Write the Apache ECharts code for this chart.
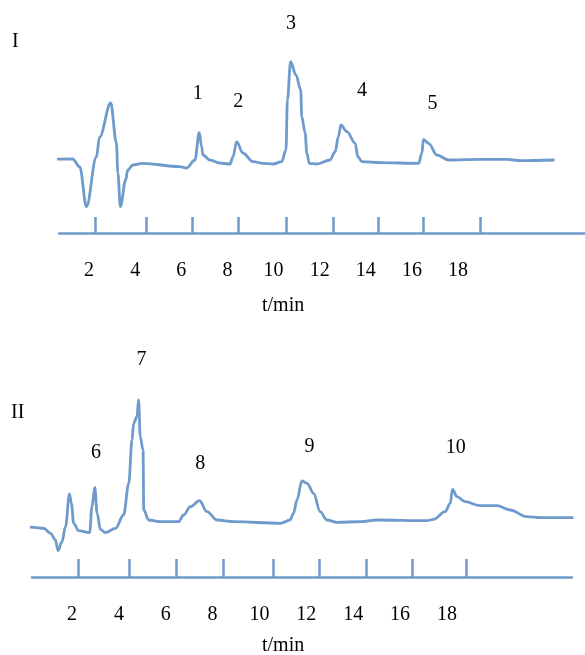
<!DOCTYPE html>
<html><head><meta charset="utf-8">
<script src="https://cdn.jsdelivr.net/npm/echarts@6/dist/echarts.min.js"></script>
<style>html,body{margin:0;padding:0;background:#fff}#c{width:585px;height:655px}</style>
</head><body><div id="c"></div>
<script>
// Panel I chromatogram: time (min) and detector signal (arbitrary units)
const timeI = [-0.61,1.29,1.60,1.89,2.32,2.46,2.94,3.19,3.25,3.36,3.59,3.68,3.90,4.33,5.94,6.23,6.59,6.78,6.88,6.94,7.24,7.67,8.11,8.24,8.40,8.67,9.11,9.54,9.98,10.35,10.54,10.60,10.74,10.97,11.18,11.22,11.37,11.44,11.55,11.87,12.45,12.67,12.81,12.92,13.18,13.54,13.65,13.83,14.62,16.29,16.43,16.50,16.72,17.08,17.59,18.96,20.12,20.70,22.18];
const signalI = [73.7,74,66,26.3,76,96,130,90,60,26.3,53,63,68,69.7,66.3,65,73,100.3,86.3,78,73,70,69,76,91.3,80,71.3,69.7,69,71.3,83,133,171.3,158,143,116.3,100,80,69.7,69,73,81.3,96.3,108,101.3,89.7,76.3,71.3,70.3,69.7,80,93.7,89.7,78,73,73.7,73.7,72.3,73];
// Panel II chromatogram
const timeII = [-0.17,0.36,0.79,1.08,1.29,1.40,1.57,1.72,1.89,1.97,2.07,2.28,2.75,2.85,2.97,3.07,3.21,3.42,3.85,4.20,4.42,4.56,4.63,4.77,4.84,4.91,5.03,5.06,5.27,5.77,6.55,6.76,7.05,7.44,7.76,8.19,8.90,10.89,11.31,11.45,11.60,11.81,12.03,12.31,12.59,12.88,13.31,14.30,15.01,17.15,17.43,17.93,18.14,18.24,18.43,18.78,19.42,20.13,20.70,21.41,21.98,23.40];
const signalII = [50.3,49.7,48.7,43.7,37,26.3,35.3,50.3,83,73.7,53.7,46.3,44.3,70.3,89.7,63.7,47.7,44.3,48.7,62,93.7,137,153.7,160.3,177,140.3,127,67,57,55.3,55.3,62,70.3,76.3,65.3,57,55.3,53.7,57,63.7,77,96,93.7,83.7,65.3,57,54.7,55.3,57,56.3,57.7,65.3,73.7,87.7,80.3,75.3,71.3,71.3,67,60.3,59.3,59.3];
// Axis tick positions (min) as drawn, and tick labels
const tickTimesI = [2.29,4.50,6.46,8.46,10.54,12.58,14.54,16.49,18.96];
const tickTimesII = [2.26,4.46,6.45,8.44,10.58,12.56,14.54,16.51,18.81];
const tickLabels = [2,4,6,8,10,12,14,16,18];
// Peak numbers: name, time, signal level of the label
const peakNamesI = ['1','2','3','4','5'];
const peakTimesI = [6.71,8.47,10.76,13.83,16.89];
const peakLevelsI = [139.7,131.3,209,142.3,129.7];
const peakNamesII = ['6','7','8','9','10'];
const peakTimesII = [3.02,4.96,7.47,12.14,18.38];
const peakLevelsII = [124.3,217,113,130.3,129.7];

const BLUE = '#6e9bcb';
const INK = '#000';
const FONT = '"Liberation Serif","DejaVu Serif",serif';
const chart = echarts.init(document.getElementById('c'), null, {renderer:'canvas'});

function xAxisCfg(gi, min, max, ticks, tickLen, margin){
  return {type:'value', gridIndex:gi, min:min, max:max,
    axisLine:{show:true, onZero:false, lineStyle:{color:BLUE, width:2.5}},
    axisTick:{show:true, inside:true, length:tickLen, customValues:ticks, lineStyle:{color:BLUE, width:2.5}},
    axisLabel:{show:true, customValues:tickLabels, margin:margin, color:INK, fontFamily:FONT, fontSize:20, formatter:v=>String(v)},
    splitLine:{show:false}};
}
function yAxisCfg(gi){
  return {type:'value', gridIndex:gi, min:0, max:230, show:false, splitLine:{show:false}};
}
function peakSeries(xi, names, times, levels){
  return {type:'scatter', xAxisIndex:xi, yAxisIndex:xi, symbolSize:0, clip:false, silent:true,
    itemStyle:{opacity:1, color:'transparent'},
    data: names.map((n,i)=>({value:[times[i], levels[i]], name:n})),
    label:{show:true, position:'inside', opacity:1, formatter:p=>p.name, color:INK, textBorderWidth:0, textBorderColor:'transparent', fontFamily:FONT, fontSize:20}};
}

chart.setOption({
  animation:false,
  backgroundColor:'#fff',
  grid:[
    {left:59, right:0, top:3, height:230},
    {left:32, right:13, top:347, height:230}
  ],
  xAxis:[
    xAxisCfg(0, 0.7, 23.5, tickTimesI, 16, 28),
    xAxisCfg(1, 0.29, 23.34, tickTimesII, 18, 28)
  ],
  yAxis:[yAxisCfg(0), yAxisCfg(1)],
  graphic:[
    {type:'text', left:12, top:32, style:{text:'I', font:'20px '+FONT, fill:INK}},
    {type:'text', left:11, top:403, style:{text:'II', font:'20px '+FONT, fill:INK}},
    {type:'text', left:262, top:296, style:{text:'t/min', font:'20px '+FONT, fill:INK}},
    {type:'text', left:262, top:636, style:{text:'t/min', font:'20px '+FONT, fill:INK}}
  ],
  series:[
    {type:'line', xAxisIndex:0, yAxisIndex:0, clip:false, symbol:'none', smooth:0.35, smoothMonotone:'x',
      lineStyle:{color:BLUE, width:2.8}, data: timeI.map((t,i)=>[t, signalI[i]])},
    {type:'line', xAxisIndex:1, yAxisIndex:1, clip:false, symbol:'none', smooth:0.35, smoothMonotone:'x',
      lineStyle:{color:BLUE, width:2.8}, data: timeII.map((t,i)=>[t, signalII[i]])},
    peakSeries(0, peakNamesI, peakTimesI, peakLevelsI),
    peakSeries(1, peakNamesII, peakTimesII, peakLevelsII)
  ]
});
</script></body></html>
